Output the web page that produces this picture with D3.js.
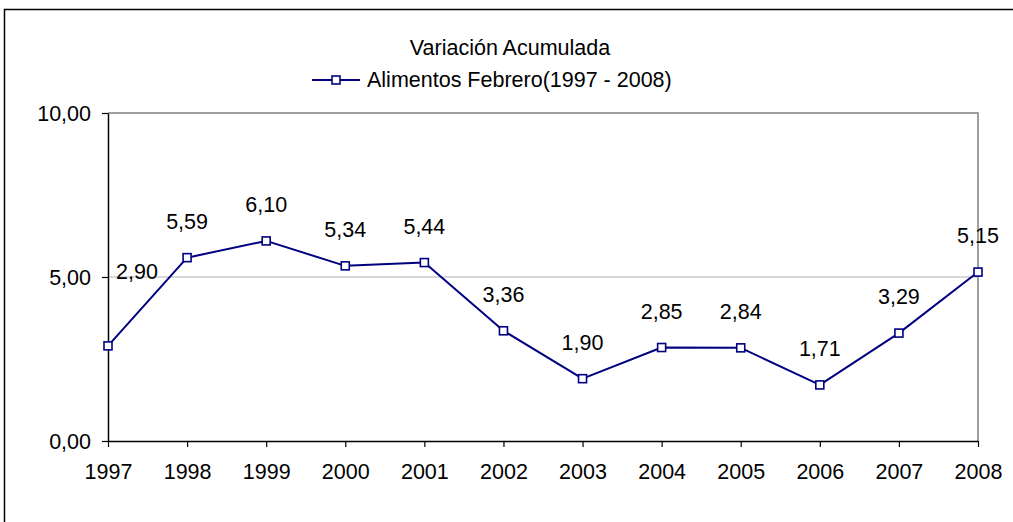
<!DOCTYPE html>
<html>
<head>
<meta charset="utf-8">
<script src="https://cdn.jsdelivr.net/npm/d3@7"></script>
<style>
  body { margin: 0; background: #fff; }
  text { font-family: "Liberation Sans", Arial, sans-serif; fill: #000; }
</style>
</head>
<body>
<svg id="chart" width="1013" height="522"></svg>
<script>
// Datos: variación acumulada de alimentos, febrero
let years = ["1997", "1998", "1999", "2000", "2001", "2002", "2003", "2004", "2005", "2006", "2007", "2008"];
let values = [2.90, 5.59, 6.10, 5.34, 5.44, 3.36, 1.90, 2.85, 2.84, 1.71, 3.29, 5.15];
let yTicks = [0, 5, 10];
let title = "Variación Acumulada";
let seriesName = "Alimentos Febrero(1997 - 2008)";

let svg = d3.select("#chart");
let margin = {top: 113, right: 35, bottom: 81, left: 108},
    width = +svg.attr("width") - margin.left - margin.right,
    height = +svg.attr("height") - margin.top - margin.bottom;

let fs = "21.5px";
let fmt = d => d3.format(".2f")(d).replace(".", ",");

// marco exterior
svg.append("rect")
    .attr("x", 4.5).attr("y", 9.5)
    .attr("width", 1100).attr("height", 600)
    .attr("fill", "none").attr("stroke", "#000").attr("stroke-width", 1.5);

let g = svg.append("g").attr("transform", "translate(" + margin.left + "," + margin.top + ")");

let x = d3.scalePoint().domain(years).range([0, width]).padding(0);
let y = d3.scaleLinear().domain([0, 10]).range([height, 0]);

// rejilla
g.selectAll(".grid")
    .data(yTicks.filter(d => d > 0 && d < 10))
    .enter().append("line")
    .attr("x1", 0).attr("x2", width)
    .attr("y1", d => y(d)).attr("y2", d => y(d))
    .attr("stroke", "#b0b0b0").attr("stroke-width", 1);

// borde superior y derecho
g.append("path")
    .attr("d", "M0," + y(10) + "H" + width + "V" + height)
    .attr("fill", "none").attr("stroke", "#808080").attr("stroke-width", 1.5);

let xAxis = g.append("g")
    .attr("transform", "translate(0," + height + ")")
    .call(d3.axisBottom(x).tickSize(6).tickSizeOuter(0));
xAxis.select(".domain").attr("stroke", "#000").attr("stroke-width", 1.5);
xAxis.selectAll("line").attr("stroke", "#000").attr("stroke-width", 1.2);
xAxis.selectAll("text").style("font-size", fs).attr("dy", "0").attr("y", 38);

let yAxis = g.append("g")
    .call(d3.axisLeft(y).tickValues(yTicks).tickFormat(fmt).tickSize(6).tickSizeOuter(0).tickPadding(11));
yAxis.select(".domain").attr("stroke", "#000").attr("stroke-width", 1.5);
yAxis.selectAll("line").attr("stroke", "#000").attr("stroke-width", 1.2);
yAxis.selectAll("text").style("font-size", fs).attr("dy", "0.35em");

let line = d3.line()
    .x((d, i) => x(years[i]))
    .y(d => y(d));

g.append("path")
    .datum(values)
    .attr("fill", "none")
    .attr("stroke", "#000080")
    .attr("stroke-width", 2)
    .attr("stroke-linejoin", "round")
    .attr("d", line);

g.selectAll(".marker")
    .data(values)
    .enter().append("rect")
    .attr("x", (d, i) => x(years[i]) - 4)
    .attr("y", d => y(d) - 4)
    .attr("width", 8).attr("height", 8)
    .attr("fill", "#fff")
    .attr("stroke", "#000080")
    .attr("stroke-width", 1.6);

// etiquetas de datos
g.selectAll(".lbl")
    .data(values)
    .enter().append("text")
    .attr("x", (d, i) => x(years[i]) + (i === 0 ? 29 : 0))
    .attr("y", (d, i) => y(d) - (i === 0 ? 67 : 29))
    .attr("text-anchor", "middle")
    .style("font-size", fs)
    .text(fmt);

// título y leyenda
svg.append("text")
    .attr("x", 510).attr("y", 55)
    .attr("text-anchor", "middle")
    .style("font-size", fs)
    .text(title);

let leg = svg.append("g").attr("transform", "translate(312,80)");
leg.append("line")
    .attr("x1", 0).attr("x2", 48)
    .attr("stroke", "#000080").attr("stroke-width", 2);
leg.append("rect")
    .attr("x", 20).attr("y", -4).attr("width", 8).attr("height", 8)
    .attr("fill", "#fff").attr("stroke", "#000080").attr("stroke-width", 1.6);
leg.append("text")
    .attr("x", 55).attr("y", 7)
    .style("font-size", fs)
    .text(seriesName);
</script>
</body>
</html>
